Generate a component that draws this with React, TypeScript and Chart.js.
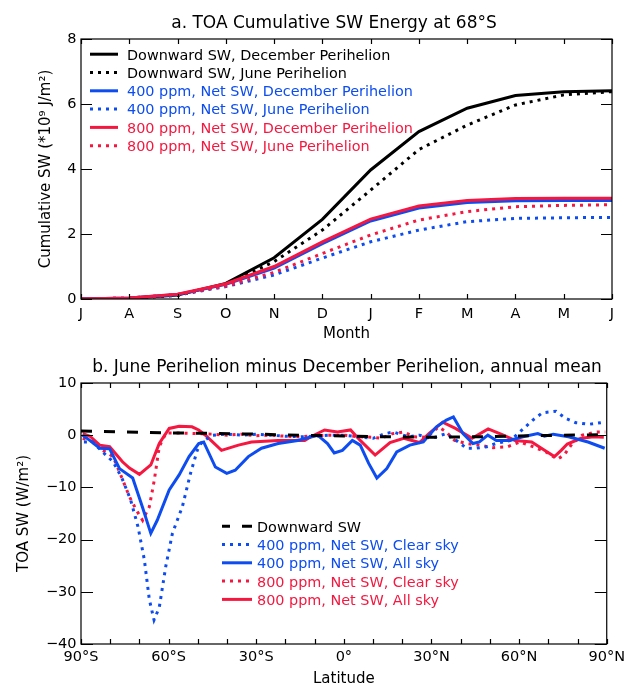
import React, { useEffect, useRef } from "react";
import { Chart, registerables } from "chart.js";
Chart.register(...registerables);

const FONT = "'DejaVu Sans', sans-serif";
const BLUE = "#0d4cf0";
const RED = "#f5173f";
const BLACK = "#000000";

// ---------- Panel a: cumulative SW at 68S ----------
const months = ["J", "A", "S", "O", "N", "D", "J", "F", "M", "A", "M", "J"];
const downDec = [0, 0.02, 0.12, 0.48, 1.27, 2.45, 3.97, 5.15, 5.87, 6.26, 6.38, 6.41];
const downJun = [0, 0.02, 0.11, 0.43, 1.15, 2.12, 3.35, 4.6, 5.35, 5.97, 6.28, 6.38];
const net400Dec = [0, 0.03, 0.14, 0.45, 0.95, 1.7, 2.4, 2.8, 2.97, 3.02, 3.03, 3.03];
const net400Jun = [0, 0.03, 0.13, 0.38, 0.74, 1.26, 1.76, 2.12, 2.38, 2.48, 2.5, 2.51];
const net800Dec = [0, 0.03, 0.15, 0.47, 1.0, 1.76, 2.46, 2.86, 3.03, 3.09, 3.1, 3.1];
const net800Jun = [0, 0.03, 0.14, 0.4, 0.82, 1.4, 1.97, 2.43, 2.69, 2.84, 2.88, 2.9];
const cumTicks = [0, 2, 4, 6, 8];

// ---------- Panel b: June minus December perihelion ----------
const downLat = [-90, -75, -60, -45, -30, -15, 0, 15, 30, 45, 60, 75, 90];
const downVal = [0.8, 0.6, 0.45, 0.35, 0.2, 0, -0.15, -0.3, -0.4, -0.3, -0.15, 0, 0.1];

const clr400Lat = [-89, -86, -83, -79, -76, -73, -70.5, -68.3, -66.6, -65, -63.2, -61, -58.7, -55.3, -52.5, -50.2, -48.6, -45, -40, -35, -30, -25, -20, -15, -10, -5, 0, 5, 10, 14, 17, 22, 26, 30, 35, 38, 42, 45, 49, 52, 57, 61, 64.7, 68, 72.6, 76, 79.4, 84, 88];
const clr400Val = [-1.3, -1.3, -3.0, -5.1, -8.2, -12.4, -17.5, -23.9, -31.5, -35.4, -33, -25.2, -18.8, -13.7, -7.3, -2.9, -1.3, 0, 0.2, 0, 0.2, 0, -0.2, -0.3, -0.2, 0, 0, -0.3, -0.6, 0.3, 0.6, -0.3, 0, -0.6, 0.3, -0.8, -2.5, -2.5, -2.2, -1.6, -1.0, 1.0, 2.9, 4.3, 4.6, 3.2, 2.4, 2.1, 2.4];

const all400Lat = [-89.4, -87, -83.6, -80.2, -76.8, -72.3, -69, -66.1, -63.9, -59.8, -56.4, -53, -49.7, -48, -44, -40.1, -37.2, -32.7, -28.2, -22.5, -15.8, -9, -5.6, -3.3, -0.5, 2.9, 5.6, 8.5, 11.3, 14.7, 18.1, 22.6, 27.2, 31.7, 35.1, 37.5, 40.8, 44.2, 46.4, 49.3, 52.2, 56.7, 61.3, 66.4, 68.7, 71.7, 76.9, 83.6, 89.3];
const all400Val = [0, -1, -2.5, -2.6, -6.4, -8.2, -13.7, -18.8, -16.3, -10.5, -7.6, -4.1, -1.6, -1.3, -6.1, -7.3, -6.7, -4.1, -2.5, -1.6, -1.0, 0, -1.6, -3.4, -2.9, -1.0, -1.9, -5.4, -8.2, -6.4, -3.2, -1.9, -1.3, 1.6, 2.9, 3.5, 0.3, -1.6, -1.3, 0, -1.0, -1.0, -0.3, 0.3, -0.2, 0.2, -0.3, -1.3, -2.5];

const clr800Lat = [-89.4, -85.7, -82.5, -79, -75.7, -73.4, -71.1, -68.9, -66.6, -64.9, -63.2, -60.9, -56, -50, -45, -40, -35, -30, -25, -20, -15, -10, -5, 0, 5, 10, 12.8, 16.7, 20.5, 24, 28.5, 32.4, 35.1, 37.9, 42, 46.4, 51.1, 56.1, 60.2, 64.7, 69.2, 73.1, 75.4, 78.2, 81.6, 86.1, 89.5];
const clr800Val = [-0.6, -1.3, -2.9, -4.1, -8.6, -11.8, -14.3, -16.3, -13.7, -8.6, -2.2, 0.4, 0.4, 0.3, 0.2, 0, 0.2, -0.1, 0, -0.2, -0.3, -0.1, 0, 0, -0.3, -0.4, -0.6, 0.3, 0.6, -0.3, -0.4, 1.6, 0.6, -1.0, -1.6, -1.9, -2.4, -2.2, -1.3, -2.2, -3.2, -4.6, -3.8, -1.6, 0, 0.6, 0.6];

const all800Lat = [-89.4, -86.9, -83.6, -80.2, -75.8, -73.4, -70, -66.1, -63.2, -59.8, -56.4, -52, -49.7, -47.4, -41.9, -36.1, -31.6, -22.5, -13.4, -11.3, -6.6, -2.2, 2.3, 5.6, 10.7, 15.8, 20.5, 25.9, 29.3, 33.8, 38.2, 43.9, 49.4, 54.2, 58.6, 64.3, 68.7, 72.1, 74.4, 76.5, 81.2, 85.6, 89];
const all800Val = [0.3, -0.2, -1.9, -2.2, -5.1, -6.3, -7.5, -5.7, -1.6, 1.3, 1.7, 1.6, 1.0, 0.0, -2.9, -1.9, -1.3, -1.0, -1.0, -0.3, 1.0, 0.6, 1.0, -1.0, -3.8, -1.4, -0.6, -1.4, 0.4, 2.5, 1.3, -0.6, 1.2, 0.1, -1.0, -1.3, -2.9, -4.1, -2.9, -1.7, -0.6, -0.3, -0.4];

const latTicks = [-90, -60, -30, 0, 30, 60, 90];
const latTickLabels = ["90°S", "60°S", "30°S", "0°", "30°N", "60°N", "90°N"];
const latMinorTicks = [-90, -80, -70, -60, -50, -40, -30, -20, -10, 0, 10, 20, 30, 40, 50, 60, 70, 80, 90];
const swTicks = [-40, -30, -20, -10, 0, 10];
const swTickLabels = ["\u221240", "\u221230", "\u221220", "\u221210", "0", "10"];

const DOT = [3, 5];
const DASH = [11, 12];

const pts = (xs: number[], ys: number[]) => xs.map((x, i) => ({ x, y: ys[i] }));

const framePlugin = {
  id: "frame",
  afterDraw(chart: any, _a: any, o: any) {
    if (!o || !o.xTicks) return;
    const { ctx, chartArea: a, scales } = chart;
    ctx.save();
    ctx.strokeStyle = "#000";
    ctx.lineWidth = 1.2;
    ctx.setLineDash([]);
    ctx.strokeRect(a.left, a.top, a.right - a.left, a.bottom - a.top);
    ctx.beginPath();
    for (const v of o.xTicks) {
      const px = Math.round(scales.x.getPixelForValue(v)) + 0.5;
      ctx.moveTo(px, a.bottom); ctx.lineTo(px, a.bottom - o.xLen);
      ctx.moveTo(px, a.top); ctx.lineTo(px, a.top + o.xLen);
    }
    for (const v of o.yTicks) {
      const py = Math.round(scales.y.getPixelForValue(v)) + 0.5;
      ctx.moveTo(a.left, py); ctx.lineTo(a.left + o.yLen, py);
      ctx.moveTo(a.right, py); ctx.lineTo(a.right - o.yLen, py);
    }
    ctx.stroke();
    ctx.restore();
  },
};

const legendPlugin = {
  id: "panelLegend",
  afterDraw(chart: any, _a: any, o: any) {
    if (!o || o.x0 === undefined) return;
    const { ctx } = chart;
    ctx.save();
    chart.data.datasets.forEach((ds: any, i: number) => {
      const y = o.baseline0 + i * o.step;
      const ly = y - o.rise;
      ctx.strokeStyle = ds.borderColor;
      ctx.lineWidth = ds.borderWidth;
      ctx.lineCap = "butt";
      ctx.setLineDash(ds.borderDash || []);
      ctx.lineDashOffset = ds.borderDash && ds.borderDash[0] > 5 ? 3 : 0;
      ctx.beginPath();
      ctx.moveTo(o.x0, ly);
      ctx.lineTo(o.x1, ly);
      ctx.stroke();
      ctx.setLineDash([]);
      ctx.fillStyle = ds.borderColor;
      ctx.font = o.font;
      ctx.textAlign = "left";
      ctx.textBaseline = "alphabetic";
      ctx.fillText(ds.label, o.textX, y);
    });
    ctx.restore();
  },
};

const titlePlugin = {
  id: "panelTitle",
  afterDraw(chart: any, _a: any, o: any) {
    if (!o || !o.text) return;
    const { ctx } = chart;
    ctx.save();
    ctx.fillStyle = "#000";
    ctx.font = o.font;
    ctx.textAlign = "center";
    ctx.textBaseline = "alphabetic";
    ctx.fillText(o.text, o.x, o.y);
    ctx.restore();
  },
};

Chart.register(framePlugin, legendPlugin, titlePlugin);

const tickFont = { family: FONT, size: 14.5 };
const axisTitleFont = { family: FONT, size: 15, lineHeight: 1 };

function configA(): any {
  const mk = (label: string, data: number[], color: string, dash: number[] | undefined, order: number) => ({
    label, data, borderColor: color, backgroundColor: color, borderWidth: 3,
    borderDash: dash, borderCapStyle: "butt", pointRadius: 0, tension: 0, fill: false, order,
  });
  return {
    type: "line",
    data: {
      labels: months,
      datasets: [
        mk("Downward SW, December Perihelion", downDec, BLACK, undefined, 5),
        mk("Downward SW, June Perihelion", downJun, BLACK, DOT, 4),
        mk("400 ppm, Net SW, December Perihelion", net400Dec, BLUE, undefined, 2),
        mk("400 ppm, Net SW, June Perihelion", net400Jun, BLUE, DOT, 3),
        mk("800 ppm, Net SW, December Perihelion", net800Dec, RED, undefined, 1),
        mk("800 ppm, Net SW, June Perihelion", net800Jun, RED, DOT, 0),
      ],
    },
    options: {
      responsive: false,
      animation: false,
      devicePixelRatio: 1,
      layout: { padding: { left: 0, right: 18, top: 39, bottom: 0 } },
      plugins: {
        legend: { display: false },
        tooltip: { enabled: false },
        title: { display: false },
        frame: { xTicks: months.map((_, i) => i), yTicks: cumTicks, xLen: 5, yLen: 11 },
        panelLegend: { x0: 90, x1: 118, textX: 127, baseline0: 59.5, step: 18.3, rise: 5.3, font: `14.4px ${FONT}` },
        panelTitle: { text: "a. TOA Cumulative SW Energy at 68°S", x: 334, y: 27.5, font: `17px ${FONT}` },
      },
      scales: {
        x: {
          type: "category",
          offset: false,
          grid: { display: false, drawTicks: false },
          border: { display: false },
          ticks: { padding: 7, font: tickFont, color: "#000", autoSkip: false, maxRotation: 0 },
          title: { display: true, text: "Month", font: axisTitleFont, color: "#000", padding: { top: 0, bottom: 1.5 } },
          afterFit: (s: any) => { s.height = 44; },
        },
        y: {
          type: "linear",
          min: 0,
          max: 8,
          afterBuildTicks: (s: any) => { s.ticks = cumTicks.map((v) => ({ value: v })); },
          grid: { display: false, drawTicks: false },
          border: { display: false },
          ticks: { padding: 4.5, font: tickFont, color: "#000" },
          title: { display: true, text: "Cumulative SW (*10\u2079 J/m\u00b2)", font: axisTitleFont, color: "#000", padding: { top: 38.5, bottom: 0 } },
          afterFit: (s: any) => { s.width = 81; },
        },
      },
    },
  };
}

function configB(): any {
  const mk = (label: string, xs: number[], ys: number[], color: string, dash: number[] | undefined) => ({
    label, data: pts(xs, ys), borderColor: color, backgroundColor: color, borderWidth: 3,
    borderDash: dash, borderCapStyle: "butt", pointRadius: 0, tension: 0, fill: false,
  });
  return {
    type: "line",
    data: {
      datasets: [
        mk("Downward SW", downLat, downVal, BLACK, DASH),
        mk("400 ppm, Net SW, Clear sky", clr400Lat, clr400Val, BLUE, DOT),
        mk("400 ppm, Net SW, All sky", all400Lat, all400Val, BLUE, undefined),
        mk("800 ppm, Net SW, Clear sky", clr800Lat, clr800Val, RED, DOT),
        mk("800 ppm, Net SW, All sky", all800Lat, all800Val, RED, undefined),
      ],
    },
    options: {
      responsive: false,
      animation: false,
      devicePixelRatio: 1,
      layout: { padding: { left: 0, right: 18, top: 40, bottom: 0 } },
      plugins: {
        legend: { display: false },
        tooltip: { enabled: false },
        title: { display: false },
        frame: { xTicks: latMinorTicks, yTicks: swTicks, xLen: 5, yLen: 12 },
        panelLegend: { x0: 222, x1: 252, textX: 257, baseline0: 188.7, step: 18.3, rise: 5.5, font: `14.4px ${FONT}` },
        panelTitle: { text: "b. June Perihelion minus December Perihelion, annual mean", x: 347, y: 28.7, font: `17px ${FONT}` },
      },
      scales: {
        x: {
          type: "linear",
          min: -90,
          max: 90,
          afterBuildTicks: (s: any) => { s.ticks = latTicks.map((v) => ({ value: v })); },
          grid: { display: false, drawTicks: false },
          border: { display: false },
          ticks: {
            padding: 5, font: tickFont, color: "#000", autoSkip: false, maxRotation: 0,
            callback: (v: number) => latTickLabels[latTicks.indexOf(v)],
          },
          title: { display: true, text: "Latitude", font: axisTitleFont, color: "#000", padding: { top: 0, bottom: 0 } },
          afterFit: (s: any) => { s.height = 43; },
        },
        y: {
          type: "linear",
          min: -40,
          max: 10,
          afterBuildTicks: (s: any) => { s.ticks = swTicks.map((v) => ({ value: v })); },
          grid: { display: false, drawTicks: false },
          border: { display: false },
          ticks: { padding: 4.5, font: tickFont, color: "#000", callback: (v: number) => swTickLabels[swTicks.indexOf(v)] },
          title: { display: true, text: "TOA SW (W/m\u00b2)", font: axisTitleFont, color: "#000", padding: { top: 16.5, bottom: 0 } },
          afterFit: (s: any) => { s.width = 81; },
        },
      },
    },
  };
}

export default function App() {
  const r1 = useRef<HTMLCanvasElement>(null);
  const r2 = useRef<HTMLCanvasElement>(null);
  useEffect(() => {
    const c1 = new Chart(r1.current as HTMLCanvasElement, configA());
    const c2 = new Chart(r2.current as HTMLCanvasElement, configB());
    return () => { c1.destroy(); c2.destroy(); };
  }, []);
  return (
    <div style={{ position: "absolute", left: 0, top: 0, width: 630, height: 687, background: "#fff" }}>
      <canvas ref={r1} width={630} height={343} style={{ position: "absolute", left: 0, top: 0, display: "block" }} />
      <canvas ref={r2} width={630} height={344} style={{ position: "absolute", left: 0, top: 343, display: "block" }} />
    </div>
  );
}
